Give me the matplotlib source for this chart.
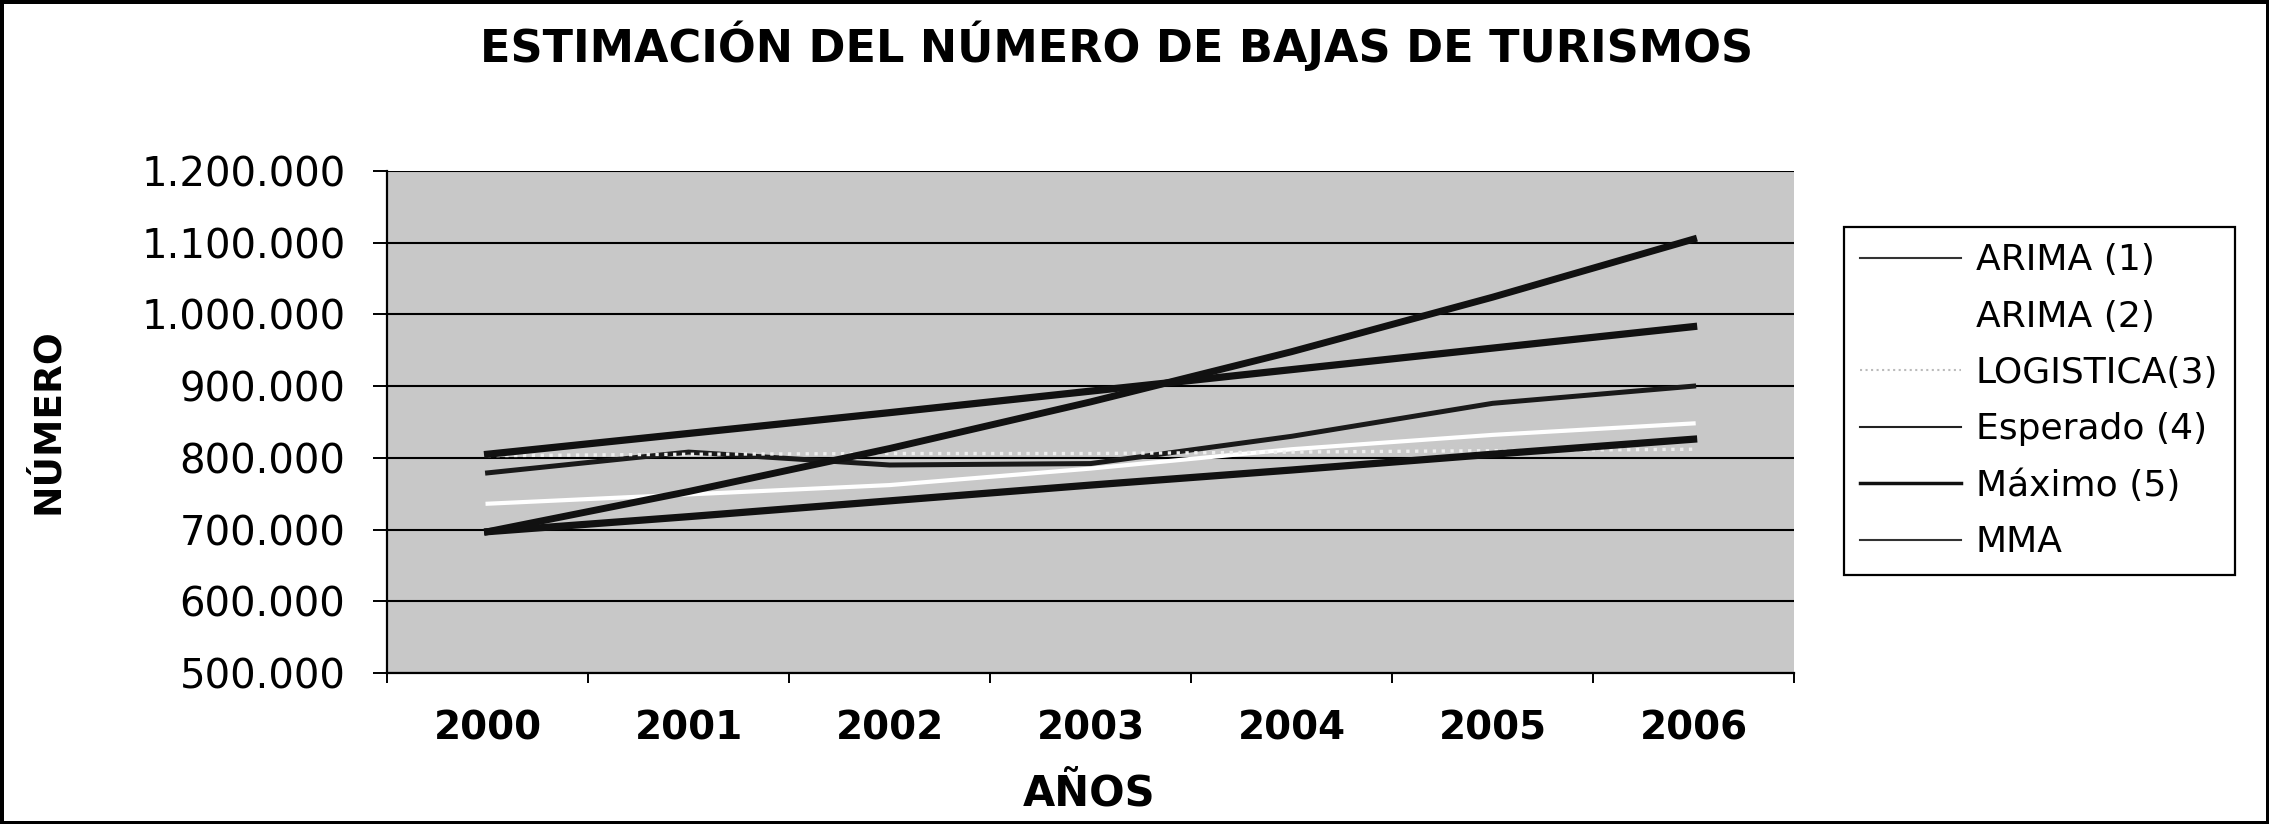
import matplotlib
matplotlib.use("Agg")
import matplotlib.pyplot as plt
from matplotlib.ticker import FixedLocator, FuncFormatter

plt.rcParams['font.family'] = ['DejaVu Sans']

# Years and estimated number of car de-registrations per model
years = ['2000', '2001', '2002', '2003', '2004', '2005', '2006']
arima1 = [779000, 808000, 790000, 792000, 830000, 876000, 900000]
arima2 = [736000, 749000, 762000, 785000, 812000, 832000, 848000]
logistica = [803000, 805000, 806000, 806000, 808000, 810000, 812000]
esperado = [805000, 834000, 863000, 893000, 923000, 953000, 983000]
maximo = [697000, 753000, 813000, 878000, 948000, 1024000, 1105000]
mma = [697000, 718000, 740000, 762000, 783000, 805000, 826000]

labels = ['ARIMA (1)', 'ARIMA (2)', 'LOGISTICA(3)', 'Esperado (4)', 'Máximo (5)', 'MMA']

fig = plt.figure(figsize=(22.69, 8.24), dpi=100)
fig.patch.set_facecolor('white')
fig.patch.set_edgecolor('black')
fig.patch.set_linewidth(5)

ax = fig.add_axes([0.1706, 0.1833, 0.6201, 0.6092])
ax.set_facecolor('#c8c8c8')

x = list(range(len(years)))
ax.set_ylim(500000, 1200000)
ax.set_xlim(-0.5, len(years) - 0.5)
ax.yaxis.set_major_locator(FixedLocator(range(500000, 1200001, 100000)))
ax.grid(axis='y', color='black', linewidth=1.5)
ax.set_axisbelow(True)

ax.plot(x, arima1, color='#1a1a1a', linewidth=3.6, label=labels[0])
ax.plot(x, arima2, color='white', linewidth=3.0, label=labels[1])
ax.plot(x, logistica, color='#eeeeee', linewidth=2.4, linestyle=':', label=labels[2])
ax.plot(x, esperado, color='#111111', linewidth=5.2, label=labels[3])
ax.plot(x, maximo, color='#111111', linewidth=5.0, label=labels[4])
ax.plot(x, mma, color='#111111', linewidth=5.2, label=labels[5])

for s in ['top', 'right']:
    ax.spines[s].set_visible(False)
for s in ['left', 'bottom']:
    ax.spines[s].set_color('black')
    ax.spines[s].set_linewidth(1.6)

ax.yaxis.set_major_formatter(FuncFormatter(lambda v, p: f"{int(v):,}".replace(",", ".")))
ax.tick_params(axis='y', direction='out', length=10, width=1.4, pad=20, labelsize=29, colors='black')

# year labels at the centres, tick marks on the boundaries
ax.set_xticks(x)
ax.set_xticklabels(years, fontsize=28, fontweight='bold')
ax.set_xticks([i - 0.5 for i in range(len(years) + 1)], minor=True)
ax.tick_params(axis='x', which='major', length=0, pad=26)
ax.tick_params(axis='x', which='minor', direction='out', length=7, width=1.4)

fig.text(0.492, 0.944, 'ESTIMACIÓN DEL NÚMERO DE BAJAS DE TURISMOS',
         ha='center', va='center', fontsize=32, fontweight='bold')
fig.text(0.021, 0.489, 'NÚMERO', rotation=90, ha='center', va='center',
         fontsize=27, fontweight='bold')
fig.text(0.48, 0.037, 'AÑOS', ha='center', va='center', fontsize=30, fontweight='bold')

leg = ax.legend(loc='upper left', bbox_to_anchor=(0.8127, 0.7245), bbox_transform=fig.transFigure,
                borderaxespad=0, fontsize=26, handlelength=2.8, handletextpad=0.4,
                labelspacing=0.62, borderpad=0.45, fancybox=False, framealpha=1,
                edgecolor='black')
leg.get_frame().set_linewidth(1.6)
leg_widths = [1.5, 1.5, 1.5, 1.5, 2.5, 1.5]
leg_colors = ['#333333', 'white', '#bbbbbb', '#222222', '#111111', '#333333']
for ln, w, c in zip(leg.get_lines(), leg_widths, leg_colors):
    ln.set_linewidth(w)
    ln.set_color(c)

fig.savefig('out.png', dpi=100)
